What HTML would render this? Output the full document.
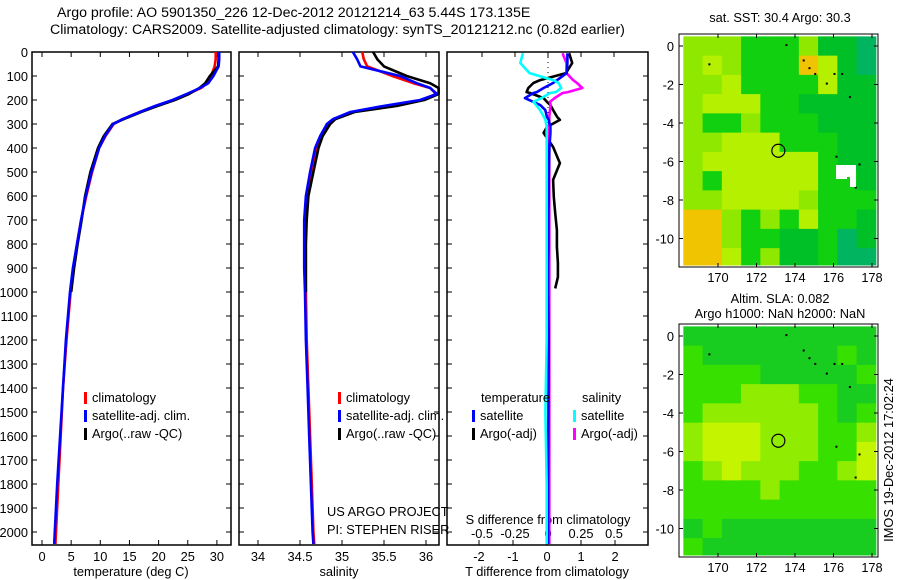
<!DOCTYPE html>
<html><head><meta charset="utf-8"><style>
html,body{margin:0;padding:0;background:#fff;}
svg{display:block;font-family:"Liberation Sans",sans-serif;}
text{font-size:12.8px;fill:#000;}
</style></head><body>
<svg id="fig" width="900" height="580" viewBox="0 0 900 580">
<text x="57" y="17" text-anchor="start" style="font-size:14.2px">Argo profile: AO 5901350_226 12-Dec-2012 20121214_63 5.44S 173.135E</text>
<text x="50" y="34" text-anchor="start" style="font-size:14.2px">Climatology: CARS2009. Satellite-adjusted climatology: synTS_20121212.nc (0.82d earlier)</text>
<g id="layer"></g>
</svg>
<script>
// ---- data ----
const depthTicks=[0,100,200,300,400,500,600,700,800,900,1000,1100,1200,1300,1400,1500,1600,1700,1800,1900,2000];
const tempTicks=[0,5,10,15,20,25,30];
const salTicks=[34,34.5,35,35.5,36];
const tdiffTicks=[-2,-1,0,1,2];
const sdiffTicks=[-0.5,-0.25,0,0.25,0.5];
const sdiffLabels=["-0.5","-0.25","0","0.25","0.5"];
const profDepth=[0,30,60,100,130,150,175,200,225,250,280,300,350,400,500,600,700,800,900,1000,1200,1400,1600,1800,2000,2050];
const tempClim=[29.8,29.8,29.6,29.0,28.3,27.3,25.0,22.5,19.5,16.8,13.8,12.3,10.9,9.8,8.6,7.6,6.7,6.0,5.4,4.9,4.2,3.6,3.2,2.8,2.4,2.3];
const tempSat=[30.4,30.4,30.3,29.4,28.5,27.1,24.8,22.4,19.4,16.8,13.8,12.2,10.8,9.8,8.5,7.5,6.7,6.0,5.3,4.8,4.1,3.6,3.1,2.6,2.2,2.1];
const tempArgo=[30.3,30.3,30.2,28.8,28.0,27.0,25.2,22.8,19.8,17.0,14.0,12.1,10.6,9.6,8.3,7.4,6.8,6.1,5.5,5.0];
const salClim=[35.24,35.26,35.3,35.6,35.85,36.05,36.12,35.95,35.55,35.12,34.9,34.83,34.75,34.69,34.63,34.58,34.56,34.56,34.56,34.57,34.58,34.6,34.62,34.64,34.66,34.67];
const salSat=[35.13,35.18,35.22,35.69,35.89,36.05,36.13,35.93,35.49,35.1,34.89,34.82,34.74,34.68,34.62,34.57,34.55,34.55,34.55,34.56,34.57,34.59,34.61,34.63,34.65,34.66];
const salArgo=[35.37,35.42,35.5,35.77,36.05,36.15,36.15,35.98,35.65,35.15,34.92,34.86,34.77,34.72,34.66,34.6,34.58,34.57,34.57,34.57];
const diffDepth=[5,46,88,117,129,150,167,171,192,208,221,242,271,283,312,337,396,463,533,604,671,742,812,879,938,985,1200,1500,1800,2050];
const tdSat=[0.6,0.6,0.58,0.3,0.18,-0.1,-0.3,-0.4,-0.65,-0.4,-0.2,-0.05,0,0.05,0.1,0.1,0.07,0.06,0.05,0.05,0.04,0.04,0.04,0.03,0.03,0.03,0.05,0.04,0.03,0.03];
const tdArgo=[0.65,0.74,0.56,-0.2,-0.4,-0.55,-0.6,-0.5,-0.1,0,0.1,0.18,0.3,0.38,0,-0.1,0.18,0.38,0.18,0.2,0.24,0.29,0.29,0.32,0.32,0.24];
const sdSat=[-0.19,-0.21,-0.14,0.04,0.08,0.1,0.06,0.015,-0.05,-0.11,-0.09,-0.06,-0.03,-0.02,-0.01,-0.01,-0.01,-0.01,-0.01,-0.01,-0.01,-0.01,-0.01,-0.01,-0.01,-0.01,-0.01,-0.02,-0.01,-0.01];
const sdArgo=[0.11,0.14,0.14,0.19,0.22,0.26,0.15,0.11,0.05,0.015,0.02,0.015,0.01,0.01,0.01,0.01,0.01,0.01,0.01,0.01,0.01,0.01,0.01,0.01,0.01,0.01,0.01,0.01,0.01,0.01];
const latTicks=[0,-2,-4,-6,-8,-10];
const lonTicks=[170,172,174,176,178];
const sstGrid=["yyyGGGyDDT","yYyGGGOYDT","yyYGGGGYDD","yYYYGGDDDD","yGGyGGGDDD","yyYYYGGGDD","yYYYYYYGDD","yGYYYYYGGD","yyYYYYyGGG","OOyGyGYGGD","OOyGGDDGTD","OOYGyDDGTT"];
const slaGrid=["dddddddddd","gdddddddgd","ggggdddddg","gggyyyggdd","gyyyyyygdg","yYYYyyyggy","yYYYyyyggY","gyYyyyggyY","ggggyggggg","gggggggggg","dgdddddddd","gddddddddd"];
// ---- drawing ----
const NS="http://www.w3.org/2000/svg";
const L=document.getElementById('layer');
function mk(tag,at,parent){const e=document.createElementNS(NS,tag);for(const k in at)e.setAttribute(k,at[k]);(parent||L).appendChild(e);return e;}
function txt(x,y,s,anchor,parent,size){const t=mk('text',{x:x,y:y,'text-anchor':anchor||'middle'},parent);if(size)t.style.fontSize=size+'px';t.textContent=s;return t;}
const Y0=52,YTOP=52,YBOT=545;
const yD=d=>Y0+d*0.24;
const xT=v=>42+v*5.83;
const xS=v=>258+(v-34)*84;
const xTD=v=>547+v*34;
const xSD=v=>548+v*132;
function panel(x0,x1,name){
  const g=mk('g',{});
  
  
  mk('rect',{x:x0,y:YTOP,width:x1-x0,height:YBOT-YTOP,fill:'none',stroke:'#000','stroke-width':1.5},g);
  depthTicks.forEach(d=>{const y=yD(d);mk('line',{x1:x0,x2:x0+5,y1:y,y2:y,stroke:'#000'},g);mk('line',{x1:x1-5,x2:x1,y1:y,y2:y,stroke:'#000'},g);});
  return g;
}
function series(xs,ys,xf,color,name,clip){
  let pts=[];for(let i=0;i<xs.length;i++)pts.push(Math.min(Math.max(xf(xs[i]),clip[0]),clip[1]).toFixed(1)+','+yD(ys[i]).toFixed(1));
  const p=mk('polyline',{points:pts.join(' '),fill:'none',stroke:color,'stroke-width':2.6,'stroke-linejoin':'round'});
  
  
}
// panel 1 temperature
panel(32,231,'temperature-panel');
depthTicks.forEach(d=>{const t=txt(28,yD(d)+5,String(d),'end');});
tempTicks.forEach(v=>{const x=xT(v);mk('line',{x1:x,x2:x,y1:YBOT-5,y2:YBOT,stroke:'#000'});mk('line',{x1:x,x2:x,y1:YTOP,y2:YTOP+5,stroke:'#000'});const t=txt(x,561,String(v));});
const tx=txt(131,576,'temperature (deg C)');
series(tempClim,profDepth,xT,'#f00','temp-climatology-line',[32,231]);
series(tempArgo,profDepth.slice(0,tempArgo.length),xT,'#000','temp-argo-line',[32,231]);
series(tempSat,profDepth,xT,'#00f','temp-satellite-line',[32,231]);
// panel 2 salinity
panel(239,439,'salinity-panel');
salTicks.forEach(v=>{const x=xS(v);mk('line',{x1:x,x2:x,y1:YBOT-5,y2:YBOT,stroke:'#000'});mk('line',{x1:x,x2:x,y1:YTOP,y2:YTOP+5,stroke:'#000'});const t=txt(x,561,String(v));});
const sx=txt(339,576,'salinity');
series(salClim,profDepth,xS,'#f00','sal-climatology-line',[239,439]);
series(salArgo,profDepth.slice(0,salArgo.length),xS,'#000','sal-argo-line',[239,439]);
series(salSat,profDepth,xS,'#00f','sal-satellite-line',[239,439]);
// panel 3 differences
panel(447,648,'difference-panel');
tdiffTicks.forEach(v=>{const x=xTD(v);mk('line',{x1:x,x2:x,y1:YBOT-5,y2:YBOT,stroke:'#000'});const t=txt(x,561,String(v));});
sdiffTicks.forEach((v,i)=>{const x=xSD(v);mk('line',{x1:x,x2:x,y1:YTOP,y2:YTOP+5,stroke:'#000'});const t=txt(x,538,sdiffLabels[i]);});
mk('line',{x1:548,x2:548,y1:YTOP,y2:YBOT,stroke:'#000','stroke-dasharray':'1,4'});
const tdx=txt(547,576,'T difference from climatology');
const sdx=txt(548,524,'S difference from climatology');
series(tdArgo,diffDepth.slice(0,tdArgo.length),xTD,'#000','tdiff-argo-line',[447,648]);
series(sdArgo,diffDepth,xSD,'#f0f','sdiff-argo-line',[447,648]);
series(tdSat,diffDepth,xTD,'#00f','tdiff-satellite-line',[447,648]);
series(sdSat,diffDepth,xSD,'#0ff','sdiff-satellite-line',[447,648]);
// legends
function legItem(x,y,color,label,name){const g=mk('g',{});mk('rect',{x:x,y:y-10,width:3,height:12,fill:color},g);txt(x+8,y,label,'start',g);}
legItem(84,402,'#f00','climatology','legend-climatology');
legItem(84,420,'#00f','satellite-adj. clim.','legend-satellite-adj');
legItem(84,438,'#000','Argo(..raw -QC)','legend-argo');
legItem(338,402,'#f00','climatology','legend2-climatology');
legItem(338,420,'#00f','satellite-adj. clim.','legend2-satellite-adj');
legItem(338,438,'#000','Argo(..raw -QC)','legend2-argo');
txt(481,402,'temperature','start');
legItem(472,420,'#00f','satellite','legend-tdiff-satellite');
legItem(472,438,'#000','Argo(-adj)','legend-tdiff-argo');
txt(582,402,'salinity','start');
legItem(573,420,'#0ff','satellite','legend-sdiff-satellite');
legItem(573,438,'#f0f','Argo(-adj)','legend-sdiff-argo');
txt(327,516,'US ARGO PROJECT','start');txt(327,534,'PI: STEPHEN RISER','start');
// maps
const colSST={y:'#8ee800',Y:'#b4f000',G:'#10d010',D:'#00c028',T:'#00b460',O:'#f0c400'};
const colSLA={d:'#18cc20',g:'#38e000',y:'#90ec00',Y:'#c4f400'};
function map(fy,fh,y0lat,grid,cols,name){
  const g=mk('g',{});
  const px=19.25;const xL=lon=>718+(lon-170)*px;const yL=lat=>y0lat-lat*px;
  const lon0=168.2,lat0=0.5;
  for(let r=0;r<grid.length;r++)for(let c=0;c<grid[r].length;c++){
    const x=Math.max(xL(lon0+c),682),y=Math.max(yL(lat0-r),fy+2);
    const x2=Math.min(xL(lon0+c+1),877),y2=Math.min(yL(lat0-r-1),fy+fh-2);
    mk('rect',{x:x,y:y,width:x2-x+0.5,height:y2-y+0.5,fill:cols[grid[r][c]]},g);
  }
  mk('rect',{x:679,y:fy,width:199,height:fh,fill:'none',stroke:'#000','stroke-width':1},g);
  latTicks.forEach(v=>{const y=yL(v);mk('line',{x1:679,x2:683,y1:y,y2:y,stroke:'#000'},g);mk('line',{x1:874,x2:878,y1:y,y2:y,stroke:'#000'},g);txt(674,y+5,String(v),'end',g);});
  lonTicks.forEach(v=>{const x=xL(v);mk('line',{x1:x,x2:x,y1:fy,y2:fy+4,stroke:'#000'},g);mk('line',{x1:x,x2:x,y1:fy+fh-4,y2:fy+fh,stroke:'#000'},g);txt(x,fy+fh+15,String(v),'middle',g);});
  const c=mk('circle',{cx:xL(173.135),cy:yL(-5.44),r:6.5,fill:'none',stroke:'#000','stroke-width':1.2},g);
  
  
  [[174.4,-0.7],[174.7,-1.1],[175.0,-1.4],[176.0,-1.4],[176.4,-1.4],[175.6,-1.9],[176.8,-2.6],[169.5,-0.9],[173.5,0.1],[176.1,-5.7],[177.3,-6.1],[177.1,-7.3]].forEach(p=>mk('rect',{x:xL(p[0]),y:yL(p[1]),width:2,height:2,fill:'#000'},g));
}
map(34,233,46,sstGrid,colSST,'sst-map');
mk('rect',{x:836,y:165,width:11,height:14,fill:'#fff'});mk('rect',{x:847,y:165,width:9,height:12,fill:'#fff'});mk('rect',{x:850,y:175,width:6,height:12,fill:'#fff'});
txt(780,22,'sat. SST: 30.4  Argo: 30.3');
txt(780,303,'Altim. SLA: 0.082');
txt(780,318,'Argo h1000: NaN h2000: NaN');
map(324,233,336,slaGrid,colSLA,'sla-map');
const v=txt(0,0,'IMOS 19-Dec-2012 17:02:24','middle');v.setAttribute('transform','translate(893,460) rotate(-90)');
</script>
</body></html>
